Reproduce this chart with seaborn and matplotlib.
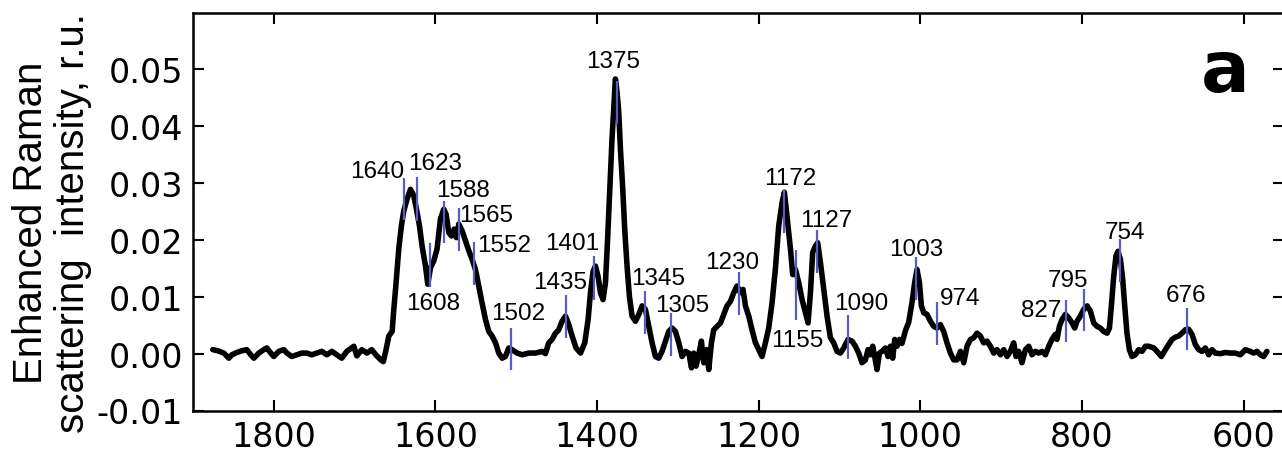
import numpy as np
import pandas as pd
import matplotlib
matplotlib.use("Agg")
import matplotlib.pyplot as plt
from matplotlib.ticker import FormatStrFormatter
import seaborn as sns

# ---------------- data ----------------
wavenumber = [
    1875.5, 1869.2, 1861.9, 1855.7, 1852.0, 1845.8, 1839.6, 1833.4, 1828.5, 1824.7,
    1818.6, 1812.4, 1808.7, 1803.7, 1800.0, 1793.8, 1787.6, 1783.9, 1777.7, 1771.5,
    1765.4, 1759.2, 1753.0, 1746.8, 1740.6, 1734.4, 1728.2, 1722.1, 1715.9, 1709.7,
    1701.0, 1697.3, 1691.1, 1684.9, 1678.8, 1673.8, 1667.6, 1664.5, 1661.4, 1657.7,
    1653.6, 1651.5, 1648.7, 1645.4, 1642.1, 1639.2, 1635.1, 1630.9, 1626.8, 1622.7,
    1619.8, 1616.5, 1612.3, 1609.5, 1606.1, 1602.1, 1598.0, 1593.8, 1589.7, 1586.8,
    1583.5, 1580.2, 1576.9, 1574.0, 1571.1, 1567.0, 1562.8, 1558.7, 1554.7, 1550.5,
    1546.4, 1542.3, 1538.1, 1534.0, 1529.9, 1525.7, 1521.6, 1517.5, 1513.4, 1509.3,
    1505.2, 1498.9, 1492.8, 1484.5, 1476.2, 1468.0, 1463.9, 1459.8, 1455.7, 1451.5,
    1447.4, 1443.3, 1439.1, 1435.0, 1430.9, 1426.0, 1420.5, 1415.2, 1411.1, 1408.2,
    1404.9, 1402.0, 1398.8, 1395.8, 1392.6, 1389.6, 1386.8, 1384.3, 1381.5, 1379.4,
    1377.3, 1375.3, 1373.2, 1371.1, 1368.2, 1365.8, 1362.9, 1360.0, 1356.7, 1352.5,
    1348.4, 1344.3, 1340.2, 1336.0, 1331.9, 1327.8, 1323.7, 1319.6, 1315.4, 1311.3,
    1307.2, 1303.0, 1298.9, 1294.8, 1290.6, 1286.5, 1283.2, 1280.4, 1277.5, 1274.2,
    1270.9, 1268.0, 1264.7, 1261.8, 1258.5, 1255.6, 1251.5, 1247.3, 1243.3, 1239.2,
    1235.0, 1230.9, 1226.8, 1222.6, 1219.4, 1216.4, 1212.3, 1208.3, 1204.0, 1199.9,
    1195.9, 1191.7, 1187.6, 1183.5, 1179.3, 1175.2, 1171.1, 1168.2, 1164.9, 1160.7,
    1157.9, 1154.5, 1150.5, 1146.3, 1142.2, 1138.9, 1136.0, 1133.2, 1129.8, 1127.0,
    1123.6, 1119.5, 1115.4, 1111.3, 1107.2, 1103.1, 1098.9, 1094.8, 1089.5, 1084.5,
    1080.3, 1076.3, 1072.1, 1068.0, 1064.7, 1061.8, 1058.9, 1056.5, 1053.6, 1050.6,
    1047.4, 1043.2, 1040.0, 1037.0, 1034.2, 1031.7, 1028.9, 1025.9, 1022.7, 1018.5,
    1014.4, 1010.3, 1007.0, 1004.1, 1001.1, 998.7, 995.8, 991.7, 987.5, 983.4,
    979.4, 975.2, 971.1, 967.0, 962.8, 958.7, 954.6, 950.4, 946.3, 942.2,
    938.0, 933.9, 929.9, 925.7, 921.6, 917.5, 913.3, 909.2, 905.1, 900.9,
    896.8, 892.7, 888.6, 884.5, 881.6, 878.3, 874.2, 870.0, 865.9, 861.8,
    857.6, 853.5, 849.4, 845.2, 841.1, 837.1, 832.9, 830.9, 827.9, 824.7,
    820.5, 816.4, 812.3, 809.0, 806.1, 802.0, 797.8, 793.7, 789.6, 785.5,
    781.4, 777.2, 773.1, 769.0, 766.0, 763.6, 760.7, 757.9, 755.4, 752.4,
    749.6, 747.1, 744.3, 741.3, 738.1, 733.9, 729.8, 725.7, 721.5, 717.4,
    711.2, 707.2, 701.7, 696.8, 692.7, 688.6, 684.4, 680.3, 676.3, 672.0,
    668.0, 663.9, 659.7, 655.6, 651.5, 647.3, 643.2, 639.1, 635.0, 628.8,
    622.6, 616.4, 610.2, 604.0, 597.8, 591.7, 587.6, 583.5, 579.3, 575.2, 571.1,
]

intensity = [
    0.0007, 0.0005, 0.0001, -0.0008, -0.0002, 0.0002, 0.0005, 0.0007, -0.0002, -0.0008,
    0.0001, 0.0007, 0.0010, 0.0001, -0.0005, 0.0004, 0.0007, 0.0001, -0.0005, -0.0002,
    0.0001, 0.0001, -0.0002, 0.0001, 0.0004, -0.0002, 0.0004, -0.0002, -0.0008, 0.0004,
    0.0013, -0.0004, 0.0007, 0.0001, 0.0007, -0.0002, -0.0011, -0.0014, 0.0005, 0.0031,
    0.0039, 0.0078, 0.0125, 0.0184, 0.0225, 0.0251, 0.0272, 0.0289, 0.0278, 0.0248,
    0.0225, 0.0189, 0.0154, 0.0122, 0.0151, 0.0163, 0.0184, 0.0237, 0.0254, 0.0245,
    0.0213, 0.0207, 0.0219, 0.0204, 0.0228, 0.0216, 0.0198, 0.0181, 0.0166, 0.0148,
    0.0119, 0.0089, 0.0060, 0.0039, 0.0031, 0.0019, 0.0001, -0.0008, -0.0005, 0.0010,
    0.0007, 0.0001, -0.0002, 0.0001, 0.0001, 0.0004, 0.0000, 0.0019, 0.0025, 0.0036,
    0.0042, 0.0057, 0.0066, 0.0051, 0.0031, 0.0010, 0.0001, 0.0019, 0.0060, 0.0107,
    0.0145, 0.0154, 0.0136, 0.0107, 0.0095, 0.0125, 0.0207, 0.0289, 0.0378, 0.0431,
    0.0483, 0.0460, 0.0425, 0.0360, 0.0289, 0.0219, 0.0154, 0.0101, 0.0066, 0.0057,
    0.0069, 0.0084, 0.0078, 0.0048, 0.0019, -0.0005, -0.0008, 0.0004, 0.0022, 0.0039,
    0.0045, 0.0039, 0.0019, -0.0005, 0.0004, 0.0001, -0.0025, 0.0001, -0.0022, -0.0002,
    0.0022, -0.0016, 0.0007, -0.0028, 0.0019, 0.0042, 0.0048, 0.0054, 0.0069, 0.0084,
    0.0092, 0.0107, 0.0119, 0.0107, 0.0113, 0.0084, 0.0066, 0.0042, 0.0019, 0.0007,
    -0.0005, 0.0019, 0.0045, 0.0089, 0.0150, 0.0225, 0.0266, 0.0284, 0.0240, 0.0184,
    0.0139, 0.0148, 0.0125, 0.0095, 0.0072, 0.0054, 0.0107, 0.0178, 0.0189, 0.0195,
    0.0160, 0.0113, 0.0066, 0.0028, 0.0019, 0.0004, 0.0001, 0.0010, 0.0025, 0.0022,
    0.0013, 0.0001, -0.0016, -0.0011, 0.0007, -0.0002, 0.0013, -0.0005, -0.0028, 0.0001,
    0.0004, 0.0010, -0.0005, 0.0013, -0.0008, 0.0025, 0.0013, 0.0025, 0.0018, 0.0040,
    0.0055, 0.0090, 0.0125, 0.0148, 0.0125, 0.0084, 0.0072, 0.0069, 0.0057, 0.0048,
    0.0045, 0.0051, 0.0039, 0.0019, 0.0001, -0.0011, -0.0011, 0.0004, -0.0016, 0.0013,
    0.0025, 0.0028, 0.0036, 0.0031, 0.0019, 0.0022, 0.0013, 0.0001, 0.0007, -0.0002,
    0.0007, -0.0005, 0.0004, 0.0019, -0.0005, 0.0004, -0.0016, 0.0007, 0.0013, -0.0002,
    0.0004, 0.0001, 0.0004, -0.0002, 0.0013, 0.0025, 0.0034, 0.0025, 0.0048, 0.0060,
    0.0069, 0.0063, 0.0054, 0.0045, 0.0057, 0.0066, 0.0078, 0.0084, 0.0075, 0.0054,
    0.0048, 0.0045, 0.0039, 0.0036, 0.0045, 0.0084, 0.0136, 0.0172, 0.0180, 0.0166,
    0.0131, 0.0084, 0.0036, 0.0007, -0.0005, -0.0002, 0.0007, 0.0004, 0.0013, 0.0013,
    0.0010, 0.0004, -0.0005, 0.0007, 0.0016, 0.0025, 0.0029, 0.0031, 0.0036, 0.0042,
    0.0043, 0.0034, 0.0016, 0.0007, 0.0004, 0.0010, -0.0002, 0.0007, 0.0001, 0.0000,
    0.0002, 0.0001, 0.0001, -0.0002, 0.0007, 0.0004, 0.0001, 0.0004, -0.0002, -0.0005, 0.0004,
]

# peak markers: marker position, marker bottom/top
peak_pos = [1639, 1623, 1607, 1589, 1571, 1552, 1506, 1438,
            1404, 1375, 1341, 1308, 1225, 1169, 1154, 1128,
            1089, 1005, 979, 820, 797, 753, 670]
peak_lo = [0.0235, 0.0234, 0.0118, 0.0194, 0.0180, 0.0120, -0.0029, 0.0027,
           0.0095, 0.0404, 0.0035, -0.0004, 0.0068, 0.0213, 0.0059, 0.0142,
           -0.0009, 0.0094, 0.0016, 0.0021, 0.0039, 0.0126, 0.0006]
peak_hi = [0.0309, 0.0310, 0.0194, 0.0269, 0.0256, 0.0196, 0.0045, 0.0103,
           0.0171, 0.0479, 0.0111, 0.0072, 0.0143, 0.0288, 0.0182, 0.0218,
           0.0068, 0.0170, 0.0091, 0.0095, 0.0113, 0.0201, 0.0081]

# peak label texts and their anchor (centre x, baseline y) in data units
label_text = ["1640", "1623", "1588", "1565", "1552", "1608", "1502", "1435",
              "1401", "1375", "1345", "1305", "1230", "1172", "1155", "1127",
              "1090", "1003", "974", "827", "795", "754", "676"]
label_x = [1672.6, 1599.9, 1566.5, 1537.7, 1515.4, 1602.4, 1497.2, 1445.3,
           1431.3, 1380.6, 1324.9, 1294.4, 1233.0, 1161.0, 1152.1, 1116.1,
           1072.5, 1005.1, 950.4, 850.4, 817.3, 746.8, 671.7]
label_y = [0.0310, 0.0325, 0.0278, 0.0234, 0.0181, 0.0079, 0.0061, 0.0116,
           0.0184, 0.0504, 0.0122, 0.0075, 0.0151, 0.0298, 0.0013, 0.0225,
           0.0078, 0.0173, 0.0088, 0.0066, 0.0119, 0.0204, 0.0092]

x_ticks = [1800, 1600, 1400, 1200, 1000, 800, 600]
y_ticks = [-0.01, 0.00, 0.01, 0.02, 0.03, 0.04, 0.05]

# ---------------- plot ----------------
sns.set_style("ticks")
plt.rcParams["font.family"] = ["DejaVu Sans"]
plt.rcParams["axes.unicode_minus"] = False
plt.rcParams["text.color"] = "black"

df = pd.DataFrame({"wn": wavenumber, "I": intensity})

fig = plt.figure(figsize=(12.82, 4.52), dpi=100)
ax = fig.add_axes([193 / 1282, 1 - 411.5 / 452, 1091 / 1282, (411.5 - 13.5) / 452])

sns.lineplot(data=df, x="wn", y="I", ax=ax, color="black", linewidth=4,
             sort=False, estimator=None, zorder=2)
ax.vlines(peak_pos, peak_lo, peak_hi, colors="#5c5cc0", linewidth=1.6, zorder=3)

for lab, x, y in zip(label_text, label_x, label_y):
    ax.text(x, y, lab, ha="center", va="baseline", fontsize=17.5, color="black",
            family=["Liberation Sans", "DejaVu Sans"])

ax.text(623, 0.0462, "a", ha="center", va="baseline", fontsize=52,
        fontweight="bold", color="black")

ax.set_xlim(1900, 550)
ax.set_ylim(-0.01, 0.06)
ax.set_xticks(x_ticks)
ax.set_yticks(y_ticks)
ax.yaxis.set_major_formatter(FormatStrFormatter("%.2f"))
ax.tick_params(direction="in", length=8, width=1.5, top=True, right=True,
               labelsize=24, pad=7, colors="black")
for s in ax.spines.values():
    s.set_visible(True)
    s.set_linewidth(1.8)
    s.set_color("black")
ax.set_xlabel("")
ax.set_ylabel("")

fig.text(52 / 1282, 1 - 223 / 452, "Enhanced Raman\nscattering  intensity, r.u.",
         rotation=90, ha="center", va="center", fontsize=29, color="black",
         family=["Liberation Sans", "DejaVu Sans"], multialignment="center",
         linespacing=1.15)

fig.savefig("out.png", dpi=100)
